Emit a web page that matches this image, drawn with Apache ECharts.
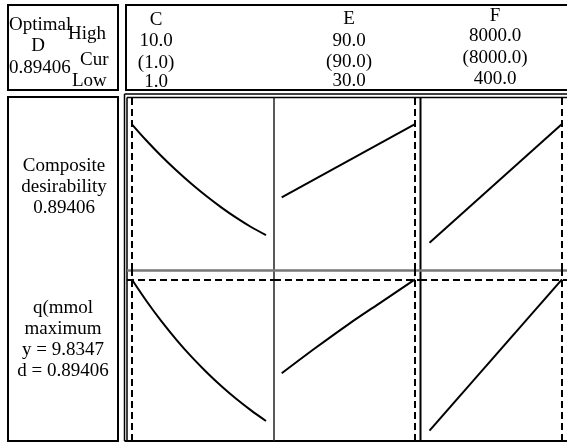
<!DOCTYPE html>
<html>
<head>
<meta charset="utf-8">
<script src="https://cdn.jsdelivr.net/npm/echarts@6/dist/echarts.min.js"></script>
<style>
  html, body { margin: 0; padding: 0; background: #fff; }
  #chart { width: 567px; height: 442px; }
</style>
</head>
<body>
<div id="chart"></div>
<script>
// factor settings (header)
const factors = ['C', 'E', 'F'];
const highLabels = ['10.0', '90.0', '8000.0'];
const curLabels = ['(1.0)', '(90.0)', '(8000.0)'];
const lowLabels = ['1.0', '30.0', '400.0'];
const currentSettings = [1.0, 90.0, 8000.0];

// composite desirability D vs each factor
const cLevels = [1, 2, 3, 4, 5, 6, 7, 8, 9, 10];
const dByC = [0.894, 0.826, 0.763, 0.705, 0.651, 0.601, 0.555, 0.513, 0.475, 0.442];
const eLevels = [30, 90];
const dByE = [0.596, 0.894];
const fLevels = [400, 8000];
const dByF = [0.411, 0.894];

// response q(mmol vs each factor
const eLevelsQ = [30, 45, 60, 75, 90];
const qByC = [9.835, 8.975, 8.185, 7.465, 6.805, 6.205, 5.655, 5.155, 4.700, 4.284];
const qByE = [6.152, 7.132, 8.072, 8.954, 9.835];
const qByF = [3.904, 9.835];
const optimalY = 9.8347;

const FONT = '19px "Liberation Serif", "Times New Roman", serif';
const chart = echarts.init(document.getElementById('chart'));

// panel geometry
const cols = [
  { left: 127, width: 147, min: 0.685, max: 10.536 },
  { left: 274, width: 146, min: 26.535, max: 92.25 },
  { left: 420, width: 147, min: -145, max: 8287 }
];
const rows = [
  { top: 98, height: 172, min: 0.3, max: 1.0 },
  { top: 270, height: 171, min: 3.5, max: 10.2 }
];

const grids = [], xAxes = [], yAxes = [], series = [];
const curves = [
  [zip(cLevels, dByC), zip(eLevels, dByE), zip(fLevels, dByF)],
  [zip(cLevels, qByC), zip(eLevelsQ, qByE), zip(fLevels, qByF)]
];

function zip(xs, ys) {
  return xs.map((x, i) => [x, ys[i]]);
}

const dashStyle = { color: '#000', width: 2, type: [7, 4] };

rows.forEach((r, ri) => {
  cols.forEach((c, ci) => {
    const idx = grids.length;
    grids.push({ left: c.left, top: r.top, width: c.width, height: r.height });
    xAxes.push({ type: 'value', gridIndex: idx, min: c.min, max: c.max, show: false });
    yAxes.push({ type: 'value', gridIndex: idx, min: r.min, max: r.max, show: false });
    const marks = [{ xAxis: currentSettings[ci] }];
    if (ri === 1) marks.push({ yAxis: optimalY });
    series.push({
      type: 'line',
      xAxisIndex: idx,
      yAxisIndex: idx,
      data: curves[ri][ci],
      smooth: ci !== 2 ? 0.3 : false,
      symbol: 'none',
      lineStyle: { color: '#000', width: 2 },
      markLine: {
        silent: true,
        symbol: 'none',
        label: { show: false },
        lineStyle: dashStyle,
        data: marks
      }
    });
  });
});

// text helper
function txt(text, x, y, align) {
  return {
    type: 'text', x: x, y: y, z: 10,
    style: { text: text, font: FONT, fill: '#000', textAlign: align || 'center', textVerticalAlign: 'middle' }
  };
}
function ln(x1, y1, x2, y2, w, color) {
  return {
    type: 'line', z: 5,
    shape: { x1: x1, y1: y1, x2: x2, y2: y2 },
    style: { stroke: color || '#000', lineWidth: w }
  };
}

const graphics = [
  // boxes
  { type: 'rect', z: 5, shape: { x: 8, y: 5, width: 110, height: 85 }, style: { fill: 'none', stroke: '#000', lineWidth: 2 } },
  { type: 'rect', z: 5, shape: { x: 126, y: 5, width: 460, height: 85 }, style: { fill: 'none', stroke: '#000', lineWidth: 2 } },
  { type: 'rect', z: 5, shape: { x: 8, y: 97, width: 110, height: 344 }, style: { fill: 'none', stroke: '#000', lineWidth: 2 } },
  // plot frame (double)
  ln(124.5, 94, 124.5, 441, 1.5),
  ln(127, 97.5, 127, 441, 1.5),
  ln(124.5, 94, 567, 94, 1.5),
  ln(127, 97.5, 567, 97.5, 1.5),
  ln(124.5, 441, 567, 441, 2),
  // dividers
  ln(274, 97.5, 274, 441, 1.5, '#222'),
  ln(420.5, 97.5, 420.5, 441, 2),
  ln(127, 270.5, 567, 270.5, 2.5, '#777'),
  // left header
  txt('Optimal', 9, 25, 'left'),
  txt('High', 68, 34, 'left'),
  txt('D', 38, 46.5),
  txt('Cur', 80, 60, 'left'),
  txt('0.89406', 9, 68.5, 'left'),
  txt('Low', 72, 81.5, 'left'),
  // row labels
  txt('Composite', 64, 166),
  txt('desirability', 64, 187),
  txt('0.89406', 64, 208),
  txt('q(mmol', 63, 308),
  txt('maximum', 63, 329),
  txt('y = ' + optimalY.toFixed(4), 63, 350),
  txt('d = 0.89406', 63, 371)
];

// factor header columns
const headX = [156, 349, 495];
const headY = [[20.5, 41, 63, 82], [19, 41, 62.5, 81], [16, 36.5, 58.5, 79]];
factors.forEach((f, i) => {
  graphics.push(txt(f, headX[i], headY[i][0]));
  graphics.push(txt(highLabels[i], headX[i], headY[i][1]));
  graphics.push(txt(curLabels[i], headX[i], headY[i][2]));
  graphics.push(txt(lowLabels[i], headX[i], headY[i][3]));
});

chart.setOption({
  animation: false,
  backgroundColor: '#fff',
  grid: grids,
  xAxis: xAxes,
  yAxis: yAxes,
  series: series,
  graphic: graphics
});
window.addEventListener('resize', function () { chart.resize(); });
</script>
</body>
</html>
